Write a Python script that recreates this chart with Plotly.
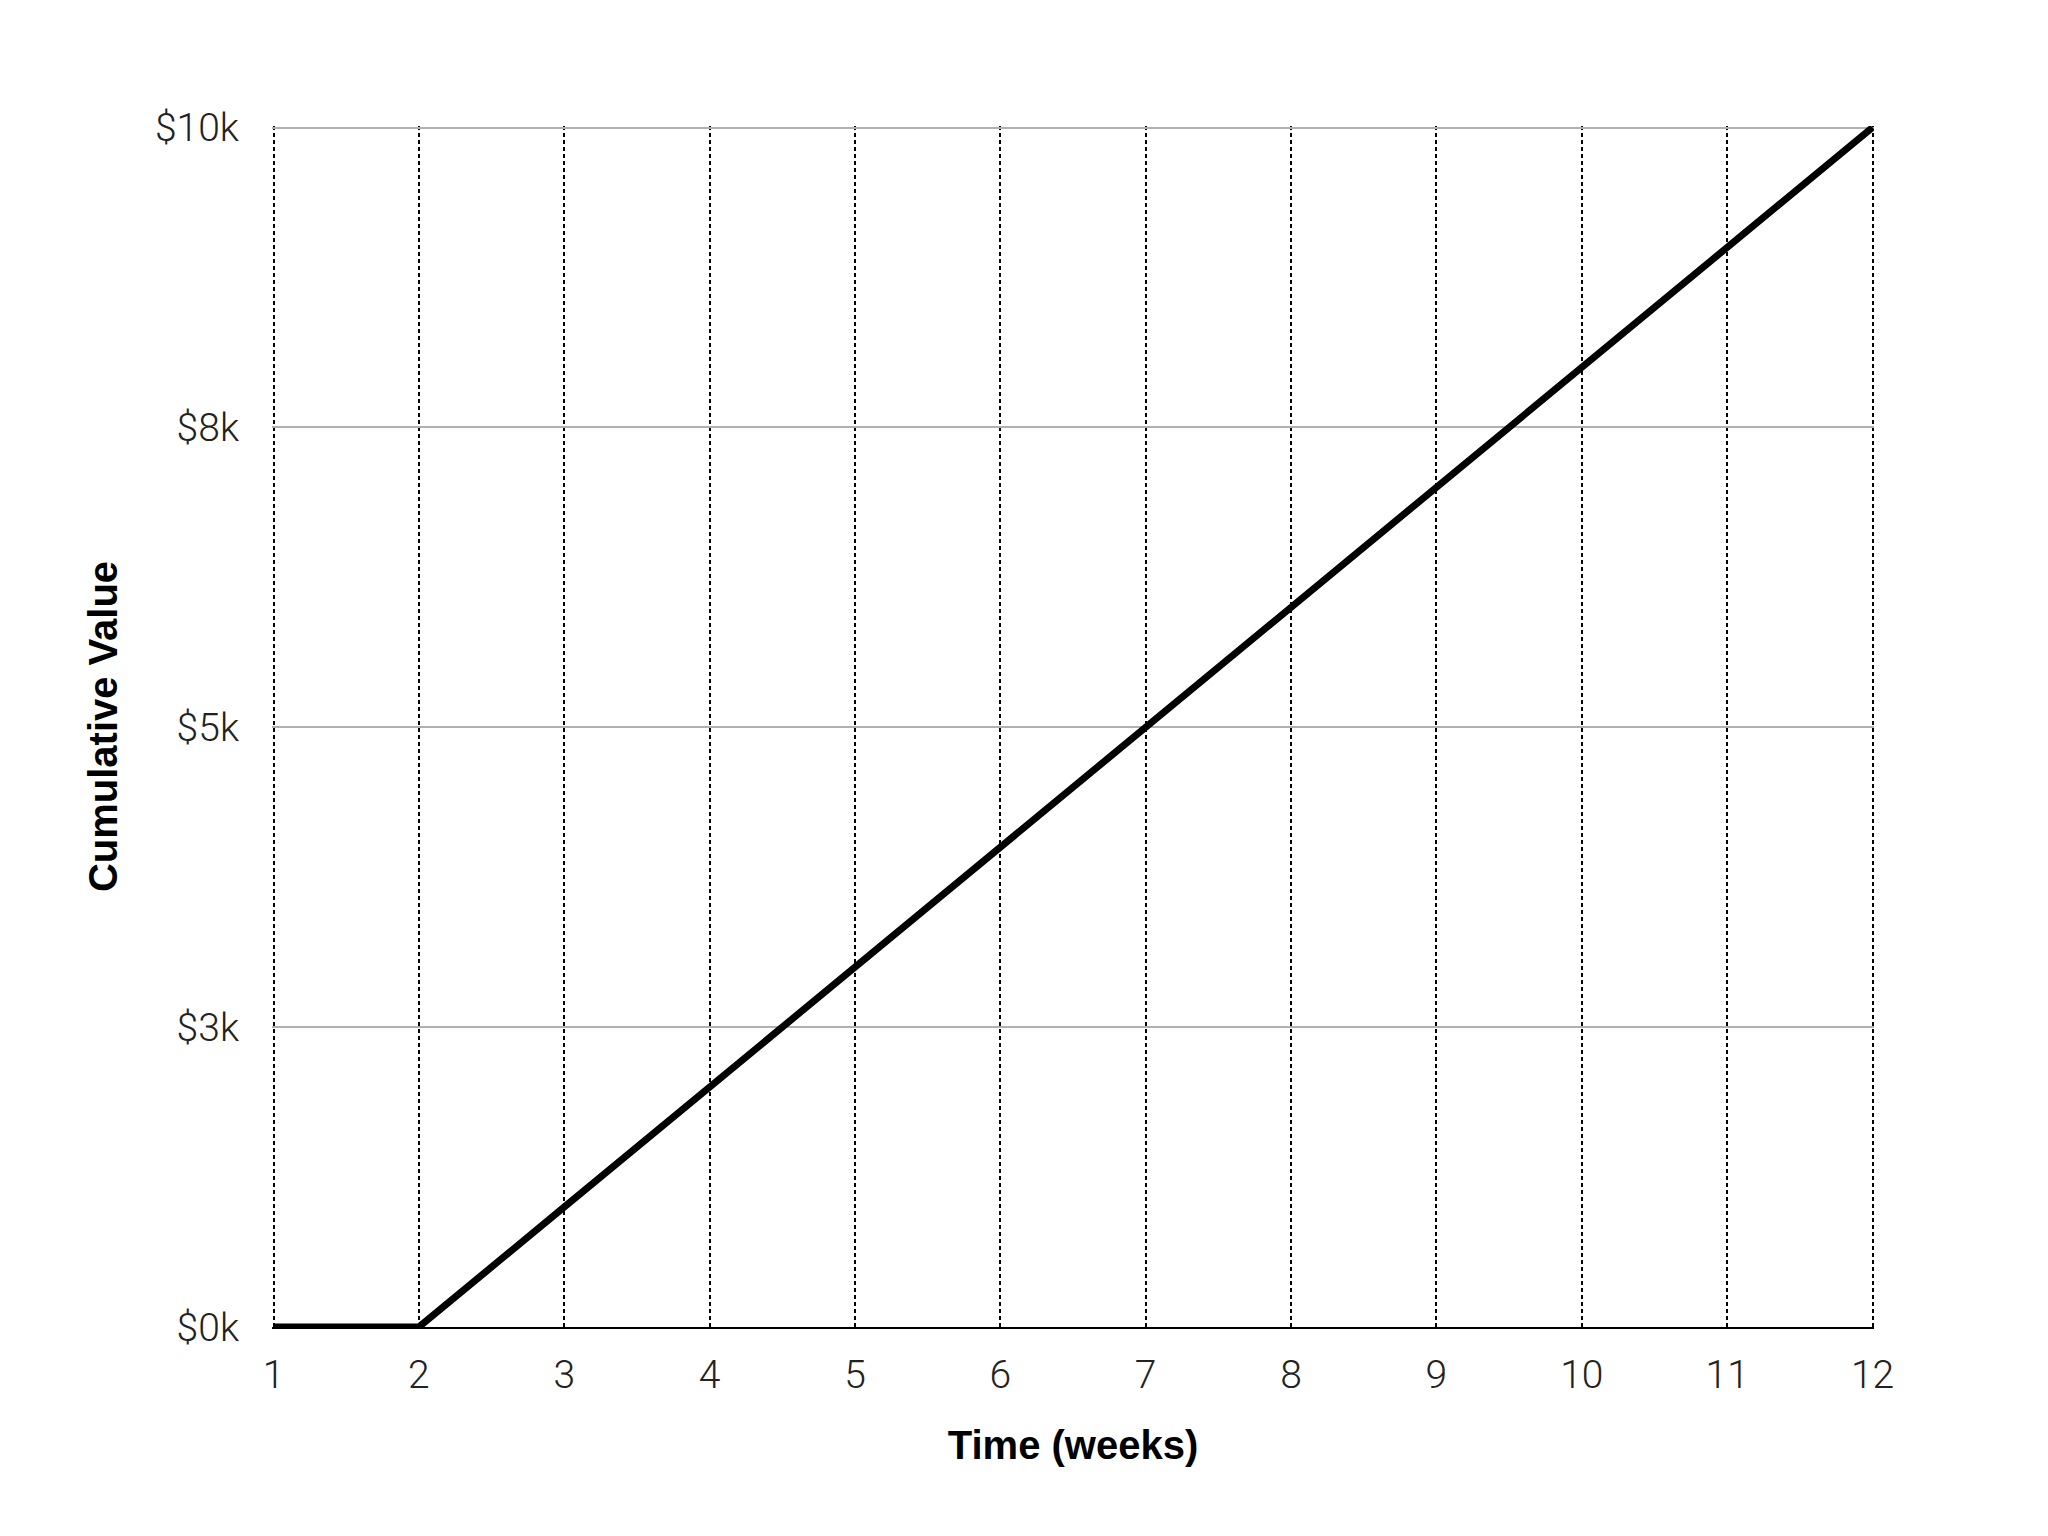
import plotly.graph_objects as go

weeks = [1, 2, 3, 4, 5, 6, 7, 8, 9, 10, 11, 12]
cumulative_value = [0, 0, 1000, 2000, 3000, 4000, 5000, 6000, 7000, 8000, 9000, 10000]
y_tick_values = [0, 2500, 5000, 7500, 10000]
y_tick_labels = ["$0k", "$3k", "$5k", "$8k", "$10k"]

fig = go.Figure()
fig.add_trace(go.Scatter(
    x=weeks, y=cumulative_value, mode="lines",
    line=dict(color="black", width=7),
    showlegend=False, cliponaxis=False,
))

tick_font = dict(family="Roboto, Lato, sans-serif", size=39, color="#222222", weight=300)
title_font = dict(family="Liberation Sans, Arial, sans-serif", size=40, color="black", weight="bold")

W, H = 2048, 1536
L, R, T, B = 263.5, 181.5, 117.5, 217
EDGE_PX = 1.5  # keep edge gridlines just inside the plot area so they are drawn
plot_w = W - L - R
plot_h = H - T - B
xspan = weeks[-1] - weeks[0]
xpad = EDGE_PX * xspan / (plot_w - 2 * EDGE_PX)
ytop = y_tick_values[-1]
ypad = EDGE_PX * ytop / (plot_h - EDGE_PX)

fig.update_layout(
    width=W, height=H,
    margin=dict(l=L, r=R, t=T, b=B),
    paper_bgcolor="white", plot_bgcolor="white",
    xaxis=dict(
        range=[weeks[0] - xpad, weeks[-1] + xpad], tickmode="array", tickvals=weeks,
        tickfont=tick_font, ticks="", ticklabelstandoff=12,
        showgrid=True, gridcolor="black", gridwidth=2, griddash="4px,3px",
        showline=True, linecolor="black", linewidth=2,
        zeroline=False,
        title=dict(text="Time (weeks)", font=title_font, standoff=34),
    ),
    yaxis=dict(
        range=[0, ytop + ypad], tickmode="array", tickvals=y_tick_values, ticktext=y_tick_labels,
        tickfont=tick_font, ticks="", ticklabelstandoff=32,
        showgrid=True, gridcolor="#b0b0b0", gridwidth=1.5,
        showline=False, zeroline=False,
        title=dict(text="Cumulative Value", font=title_font, standoff=24),
    ),
)

fig.write_html("out.html")
